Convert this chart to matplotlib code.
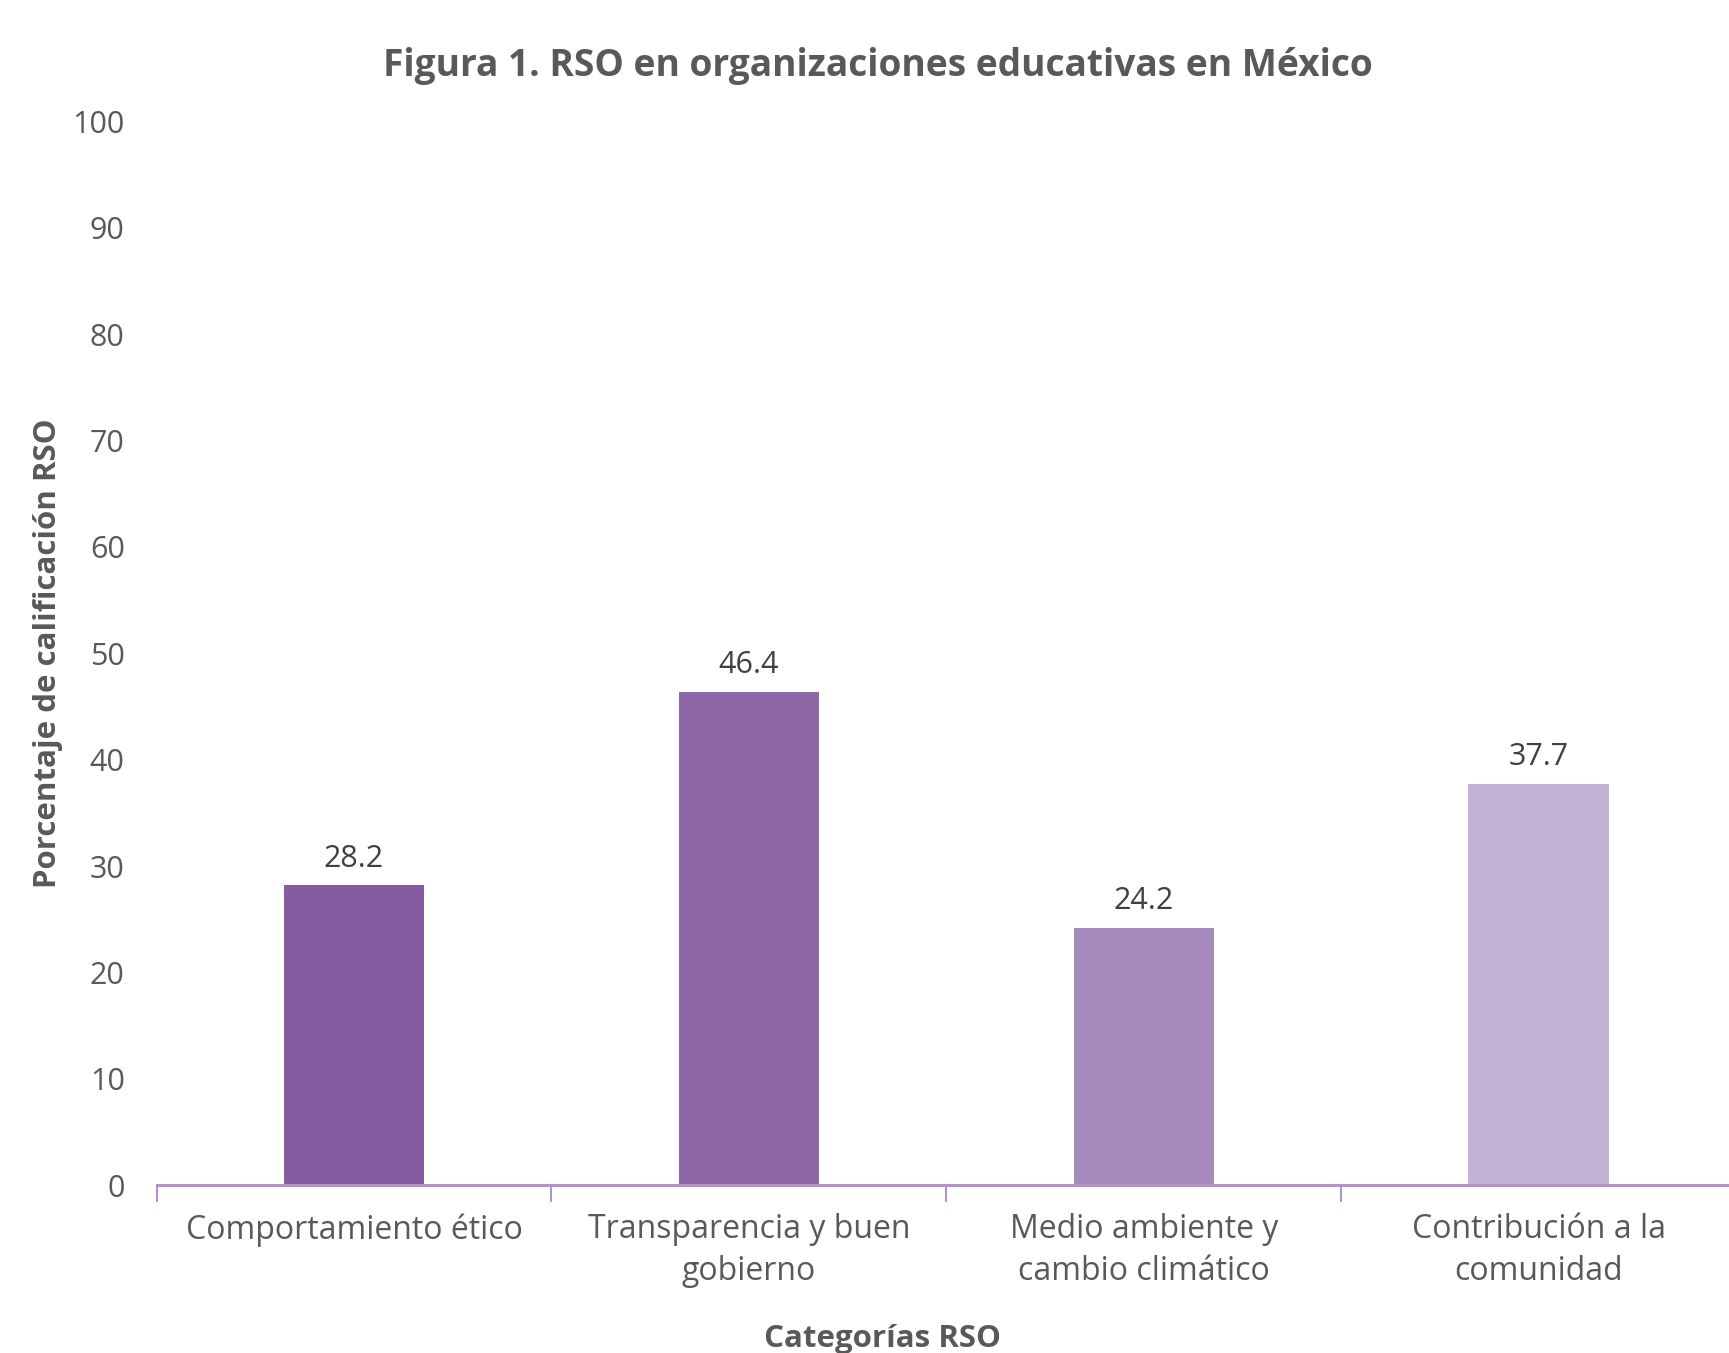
import numpy as np
import matplotlib.pyplot as plt

categories = ['Comportamiento ético', 'Transparencia y buen\ngobierno',
              'Medio ambiente y\ncambio climático', 'Contribución a la\ncomunidad']
values = [28.2, 46.4, 24.2, 37.7]
colors = ['#855ba1', '#8e67a8', '#a78abd', '#c5b3d6']
yticks = list(range(0, 101, 10))

plt.rcParams['font.family'] = ['Open Sans', 'DejaVu Sans']

fig = plt.figure(figsize=(17.29, 13.53), dpi=100)
ax = fig.add_axes([0.0906, 0.1239, 0.9134, 0.7865])

x = np.arange(len(categories))
bars = ax.bar(x, values, width=0.355, color=colors, zorder=2)
for xi, v in zip(x, values):
    ax.text(xi, v + 1.1, '{0:.1f}'.format(v), ha='center', va='bottom',
            fontsize=22, color='#404040')

ax.set_xlim(-0.5, len(categories) - 0.5)
ax.set_ylim(0, 100)
ax.set_yticks(yticks)
ax.set_yticklabels([str(t) for t in yticks], fontsize=22, color='#595959')
ax.tick_params(axis='y', length=0, pad=23)

# category boundaries as tick marks
ax.set_xticks(np.arange(-0.5, len(categories), 1.0), minor=False)
ax.set_xticklabels([])
ax.tick_params(axis='x', which='major', length=12, width=1.5, color='#b493cc', direction='out')
ax.set_xticks(x, minor=True)
ax.set_xticklabels(categories, minor=True, fontsize=23, color='#595959', linespacing=1.35)
ax.tick_params(axis='x', which='minor', length=0, pad=20)

for s in ['top', 'right', 'left']:
    ax.spines[s].set_visible(False)
ax.spines['bottom'].set_color('#b493cc')
ax.spines['bottom'].set_linewidth(2.2)

ax.set_ylabel('Porcentaje de calificación RSO', fontsize=22.5, fontweight='bold',
              color='#595959', labelpad=7)
ax.set_xlabel('Categorías RSO', fontsize=22.5, fontweight='bold', color='#595959')
ax.xaxis.set_label_coords((800 - 142) / (1574 - 142), -0.13)
fig.suptitle('Figura 1. RSO en organizaciones educativas en México', fontsize=26.7,
             fontweight='bold', color='#595959', x=0.508, y=0.965)

fig.savefig('out.png', dpi=100)
